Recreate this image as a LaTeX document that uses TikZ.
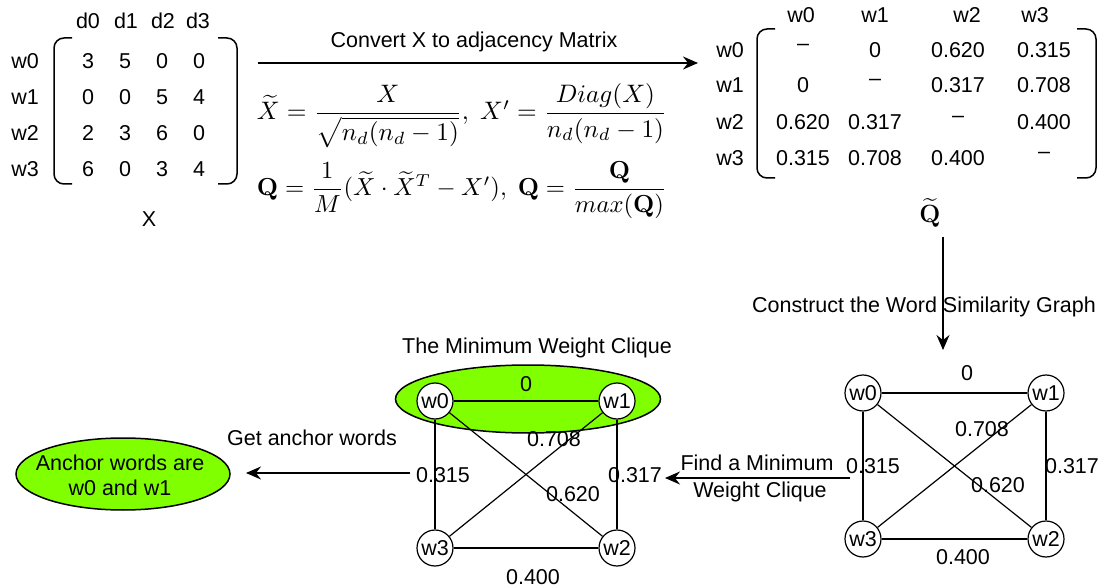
\documentclass[tikz,border=0pt]{standalone}
\usepackage[no-math]{fontspec}
\setmainfont{Liberation Sans}
\usepackage{amsmath}
\usepackage{graphicx}
\usetikzlibrary{arrows.meta,shapes.geometric}
\definecolor{lime}{RGB}{128,255,0}
\begin{document}
\begin{tikzpicture}[x=1pt,y=-1pt,
  txt/.style={font=\fontsize{21.5}{25}\selectfont, inner sep=0pt, text height=15.5pt, text depth=0pt},
  wnode/.style={circle, draw, line width=1.2pt, minimum size=36pt, inner sep=0pt, fill=white, font=\fontsize{21.5}{25}\selectfont},
  gedge/.style={line width=1.2pt},
  arr/.style={line width=1.2pt, -{Stealth[length=15pt,width=13pt,inset=5pt]}},
  brk/.style={line width=1.5pt, rounded corners=10pt},
  blob/.style={ellipse, draw, line width=1.5pt, fill=lime, inner sep=0pt},
  dsh/.style={txt, yshift=7pt}
]
\useasboundingbox (0,0) rectangle (1104,588);

% ---------- matrix X ----------
\foreach \c/\x in {d0/88,d1/126,d2/163,d3/198}
  \node[txt] (h\c) at (\x,21) {\c};
\foreach \r/\y in {w0/61,w1/97,w2/133,w3/169}
  \node[txt] (l\r) at (25,\y) {\r};
\foreach \v [count=\i from 0] in {3,5,0,0} \node[txt] (xa\i) at ({88+\i*37},61) {\v};
\foreach \v [count=\i from 0] in {0,0,5,4} \node[txt] (xb\i) at ({88+\i*37},97) {\v};
\foreach \v [count=\i from 0] in {2,3,6,0} \node[txt] (xc\i) at ({88+\i*37},133) {\v};
\foreach \v [count=\i from 0] in {6,0,3,4} \node[txt] (xd\i) at ({88+\i*37},169) {\v};
\draw[brk] (72,38) -- (54,38) -- (54,184) -- (72,184);
\draw[brk] (218,38) -- (237,38) -- (237,184) -- (218,184);
\node[txt] (Xlab) at (149,219) {X};

% ---------- top arrow and formulas ----------
\coordinate (a1s) at (258,63);
\coordinate (a1e) at (698,63);
\draw[arr] (a1s) -- (a1e);
\node[txt] (convlab) at (474,40) {Convert X to adjacency Matrix};
\node[inner sep=0pt] (eq1) at (462,116) {\resizebox{410pt}{!}{$\widetilde{X} = \dfrac{X}{\sqrt{n_d(n_d-1)}},\ X' = \dfrac{Diag(X)}{n_d(n_d-1)}$}};
\node[inner sep=0pt] (eq2) at (462,190) {\resizebox{410pt}{!}{$\mathbf{Q} = \dfrac{1}{M}(\widetilde{X}\cdot\widetilde{X}^{T} - X'),\ \mathbf{Q} = \dfrac{\mathbf{Q}}{max(\mathbf{Q})}$}};

% ---------- matrix Q ----------
\foreach \c/\x in {w0/801,w1/875,w2/967,w3/1035}
  \node[txt] (q\c) at (\x,15) {\c};
\foreach \r/\y in {w0/50,w1/85,w2/122,w3/158}
  \node[txt] (ql\r) at (730,\y) {\r};
\node[dsh] (q00) at (803,50) {–};
\node[txt] (q01) at (875,50) {0};
\node[txt] (q02) at (958,50) {0.620};
\node[txt] (q03) at (1044,50) {0.315};
\node[txt] (q10) at (803,85) {0};
\node[dsh] (q11) at (875,85) {–};
\node[txt] (q12) at (958,85) {0.317};
\node[txt] (q13) at (1044,85) {0.708};
\node[txt] (q20) at (803,122) {0.620};
\node[txt] (q21) at (875,122) {0.317};
\node[dsh] (q22) at (958,122) {–};
\node[txt] (q23) at (1044,122) {0.400};
\node[txt] (q30) at (803,158) {0.315};
\node[txt] (q31) at (875,158) {0.708};
\node[txt] (q32) at (958,158) {0.400};
\node[dsh] (q33) at (1044,158) {–};
\draw[brk] (775,29) -- (757,29) -- (757,178) -- (775,178);
\draw[brk] (1077,29) -- (1096,29) -- (1096,178) -- (1077,178);
\node[inner sep=0pt, font=\fontsize{29}{32}\selectfont] (Qt) at (930,213) {$\widetilde{\mathbf{Q}}$};

% ---------- construct arrow ----------
\coordinate (a2s) at (943,237);
\coordinate (a2e) at (943,350);
\draw[arr] (a2s) -- (a2e);
\node[txt] (conslab) at (924,305) {Construct the Word Similarity Graph};

% ---------- right graph ----------
\node[wnode] (r0) at (863,393) {w0};
\node[wnode] (r1) at (1046,393) {w1};
\node[wnode] (r2) at (1046,539) {w2};
\node[wnode] (r3) at (863,539) {w3};
\draw[gedge] (r0) -- (r1);
\draw[gedge] (r0) -- (r3);
\draw[gedge] (r1) -- (r2);
\draw[gedge] (r3) -- (r2);
\draw[gedge] (r0) -- (r2);
\draw[gedge] (r1) -- (r3);
\node[txt] (rl01) at (967,373) {0};
\node[txt] (rl13) at (982,429) {0.708};
\node[txt] (rl03) at (873,466) {0.315};
\node[txt] (rl12) at (1072,466) {0.317};
\node[txt] (rl02) at (998,485) {0.620};
\node[txt] (rl32) at (963,557) {0.400};

% ---------- find arrow ----------
\coordinate (a3s) at (850,478);
\coordinate (a3e) at (665,478);
\draw[arr] (a3s) -- (a3e);
\node[txt] (find1) at (757,463) {Find a Minimum};
\node[txt] (find2) at (760,490) {Weight Clique};

% ---------- left graph ----------
\node[blob, minimum width=265pt, minimum height=68pt] (clq) at (528,399) {};
\node[txt] (clqlab) at (537,346) {The Minimum Weight Clique};
\node[wnode] (l0) at (435,401) {w0};
\node[wnode] (l1) at (617,401) {w1};
\node[wnode] (l2) at (617,548) {w2};
\node[wnode] (l3) at (435,548) {w3};
\draw[gedge] (l0) -- (l1);
\draw[gedge] (l0) -- (l3);
\draw[gedge] (l1) -- (l2);
\draw[gedge] (l3) -- (l2);
\draw[gedge] (l0) -- (l2);
\draw[gedge] (l1) -- (l3);
\node[txt] (ll01) at (526,384) {0};
\node[txt] (ll13) at (554,439) {0.708};
\node[txt] (ll03) at (443,475) {0.315};
\node[txt] (ll12) at (635,475) {0.317};
\node[txt] (ll02) at (573,494) {0.620};
\node[txt] (ll32) at (533,577) {0.400};

% ---------- anchor words ----------
\coordinate (a4s) at (410,473);
\coordinate (a4e) at (246,473);
\draw[arr] (a4s) -- (a4e);
\node[txt] (getlab) at (312,438) {Get anchor words};
\node[blob, minimum width=214pt, minimum height=72pt] (anch) at (123,474) {};
\node[txt] (anch1) at (120,463) {Anchor words are};
\node[txt] (anch2) at (120,488) {w0 and w1};
\end{tikzpicture}
\end{document}
